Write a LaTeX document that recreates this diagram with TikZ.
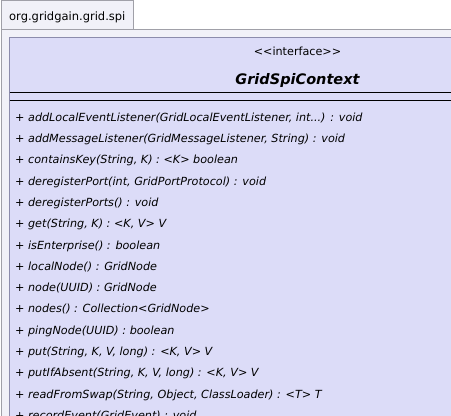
\documentclass[tikz,border=0pt]{standalone}
\usepackage{fontspec}
\setmainfont{DejaVu Sans}
\definecolor{pkgfill}{HTML}{F1F1F8}
\definecolor{pkgdraw}{HTML}{A0A0A8}
\definecolor{clsfill}{HTML}{DCDCF8}
\definecolor{clsdraw}{HTML}{8C8CAC}
\tikzset{
  pkgbox/.style={fill=pkgfill, draw=pkgdraw, line width=1pt},
  clsbox/.style={fill=clsfill, draw=clsdraw, line width=1pt},
  sepline/.style={draw=black, line width=1pt},
  method/.style={anchor=base west, inner sep=0pt, font=\fontsize{11.2}{13}\selectfont\itshape},
  tabtext/.style={anchor=base west, inner sep=0pt, font=\fontsize{11.5}{13}\selectfont},
  stereo/.style={anchor=base, inner sep=0pt, font=\fontsize{11.2}{13}\selectfont},
  clsname/.style={anchor=base, inner sep=0pt, font=\fontsize{14.5}{17}\selectfont\bfseries\itshape},
}
\begin{document}
\begin{tikzpicture}[x=1pt,y=-1pt]
\useasboundingbox (0,0) rectangle (451,416);
\clip (0,0) rectangle (451,416);
% package tab and body
\draw[pkgbox] (1.5,0.5) rectangle (133.5,29.5);
\draw[pkgbox] (1.5,29.5) rectangle (700,700);
\node[tabtext] (pkg) at (9,20) {org.gridgain.grid.spi};
% class box
\draw[clsbox] (9.5,37.5) rectangle (586,700);
\node[stereo] (stereo) at (297.5,55) {{<}{<}interface{>}{>}};
\node[clsname] (cname) at (297.5,84) {GridSpiContext};
\draw[sepline] (9.5,92.5) -- (586,92.5);
\draw[sepline] (9.5,100.5) -- (586,100.5);
% methods
\node[method] (m0)  at (15,121.2) {+ addLocalEventListener(GridLocalEventListener, int...) : void};
\node[method] (m1)  at (15,142.5) {+ addMessageListener(GridMessageListener, String) : void};
\node[method] (m2)  at (15,163.8) {+ containsKey(String, K) : <K> boolean};
\node[method] (m3)  at (15,185.1) {+ deregisterPort(int, GridPortProtocol) : void};
\node[method] (m4)  at (15,206.4) {+ deregisterPorts() : void};
\node[method] (m5)  at (15,227.7) {+ get(String, K) : <K, V> V};
\node[method] (m6)  at (15,249.0) {+ isEnterprise() : boolean};
\node[method] (m7)  at (15,270.3) {+ localNode() : GridNode};
\node[method] (m8)  at (15,291.6) {+ node(UUID) : GridNode};
\node[method] (m9)  at (15,312.9) {+ nodes() : Collection<GridNode>};
\node[method] (m10) at (15,334.2) {+ pingNode(UUID) : boolean};
\node[method] (m11) at (15,355.5) {+ put(String, K, V, long) : <K, V> V};
\node[method] (m12) at (15,376.8) {+ putIfAbsent(String, K, V, long) : <K, V> V};
\node[method] (m13) at (15,398.1) {+ readFromSwap(String, Object, ClassLoader) : <T> T};
\node[method] (m14) at (15,419.4) {+ recordEvent(GridEvent) : void};
\end{tikzpicture}
\end{document}
